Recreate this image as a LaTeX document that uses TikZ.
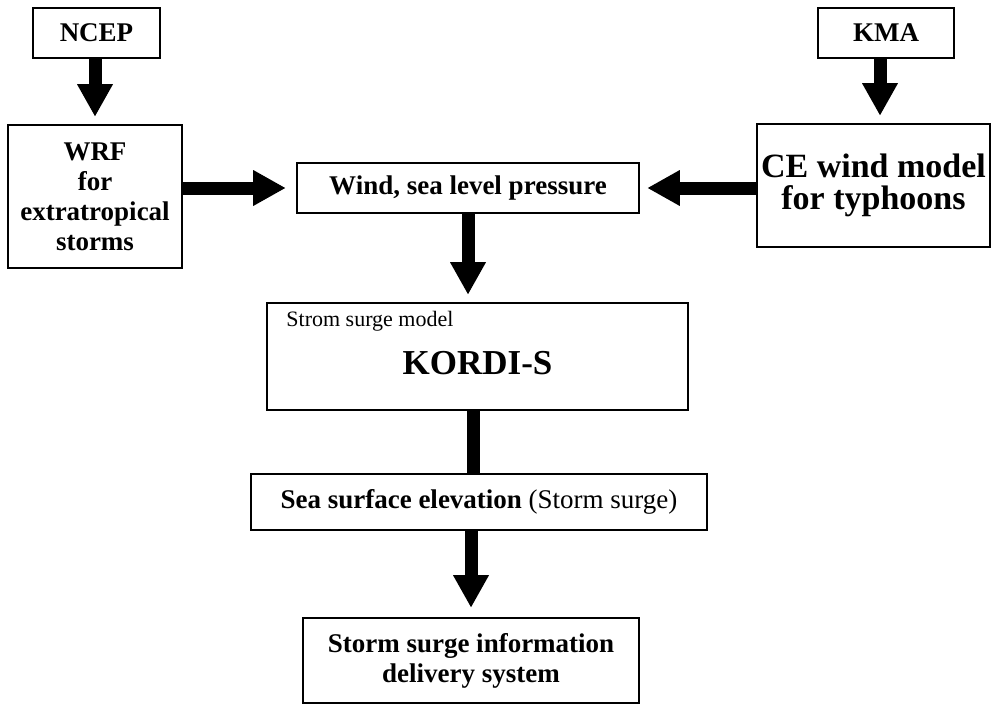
\documentclass[tikz,border=0pt]{standalone}
\usepackage{fontspec}
\setmainfont{Liberation Serif}
\usepackage{tikz}
\usetikzlibrary{arrows.meta,positioning}
\tikzset{
  every picture/.style = {
    x = 1pt,
    y = -1pt,
    >={Triangle[width=36pt,length=32pt,line width=0pt]},
  }
  ,
  block/.style = {
    rectangle,
    draw,
    line width = 1.6pt,
    inner sep = 0pt,
    align = center,
    font = \fontsize{27}{30}\selectfont\bfseries
  }
  , % big text in a block
  block-big/.style = {
    font = \fontsize{34}{32}\selectfont\bfseries
  }
  , % thick arrows between blocks
  flow/.style = {
    ->,
    line width = 13pt,
    shorten > = 8pt
  }
  , % small caption in a block corner
  label-block/.style = {
    font = \fontsize{22}{24}\selectfont,
    anchor = north west,
    inner sep = 0pt,
    xshift = 20pt,
    yshift = -9pt
  }
}

\begin{document}
\begin{tikzpicture}
  \useasboundingbox (0,0) rectangle (992,706);

  \node [block, minimum width=127pt, minimum height=50pt] (ncep) at (96.5,33) {NCEP};
  \node [block, minimum width=136pt, minimum height=50pt] (kma) at (886,33) {KMA};
  \node [block, minimum width=174pt, minimum height=143pt] (wrf) at (95,196.5)
    {WRF\\for\\extratropical\\storms};
  \node [block, block-big, minimum width=233pt, minimum height=123pt] (ce) at (873.5,185.5)
    {CE wind model\\for typhoons};
  \node [block, minimum width=342pt, minimum height=50pt] (wind) at (468,188)
    {Wind, sea level pressure};
  \node [block, minimum width=421pt, minimum height=107pt, text height=36pt, text depth=0pt,
         font=\fontsize{35}{36}\selectfont\bfseries,
         label={[label-block]north west:Strom surge model}] (kordi) at (477.5,356.5)
    {KORDI-S};
  \node [block, minimum width=456pt, minimum height=56pt] (sea) at (479,502)
    {Sea surface elevation {\normalfont (Storm surge)}};
  \node [block, minimum width=336pt, minimum height=85pt] (sys) at (471,660.5)
    {Storm surge information\\delivery system};

  \draw [flow] ([xshift=-1.5pt]ncep.south) -- ([xshift=-1.5pt]ncep.south |- wrf.north);
  \draw [flow] ([xshift=-6pt]kma.south) -- ([xshift=-6pt]kma.south |- ce.north);
  \draw [flow, shorten >=11pt] (wrf.east |- wind.west) -- (wind.west);
  \draw [flow] (ce.west |- wind.east) -- (wind.east);
  \draw [flow] (wind.south) -- (wind.south |- kordi.north);
  \draw [line width=13pt] ([xshift=-6pt]sea.north |- kordi.south) -- ([xshift=-6pt]sea.north);
  \draw [flow, shorten >=10pt] (sys.north |- sea.south) -- (sys.north);
\end{tikzpicture}
\end{document}
